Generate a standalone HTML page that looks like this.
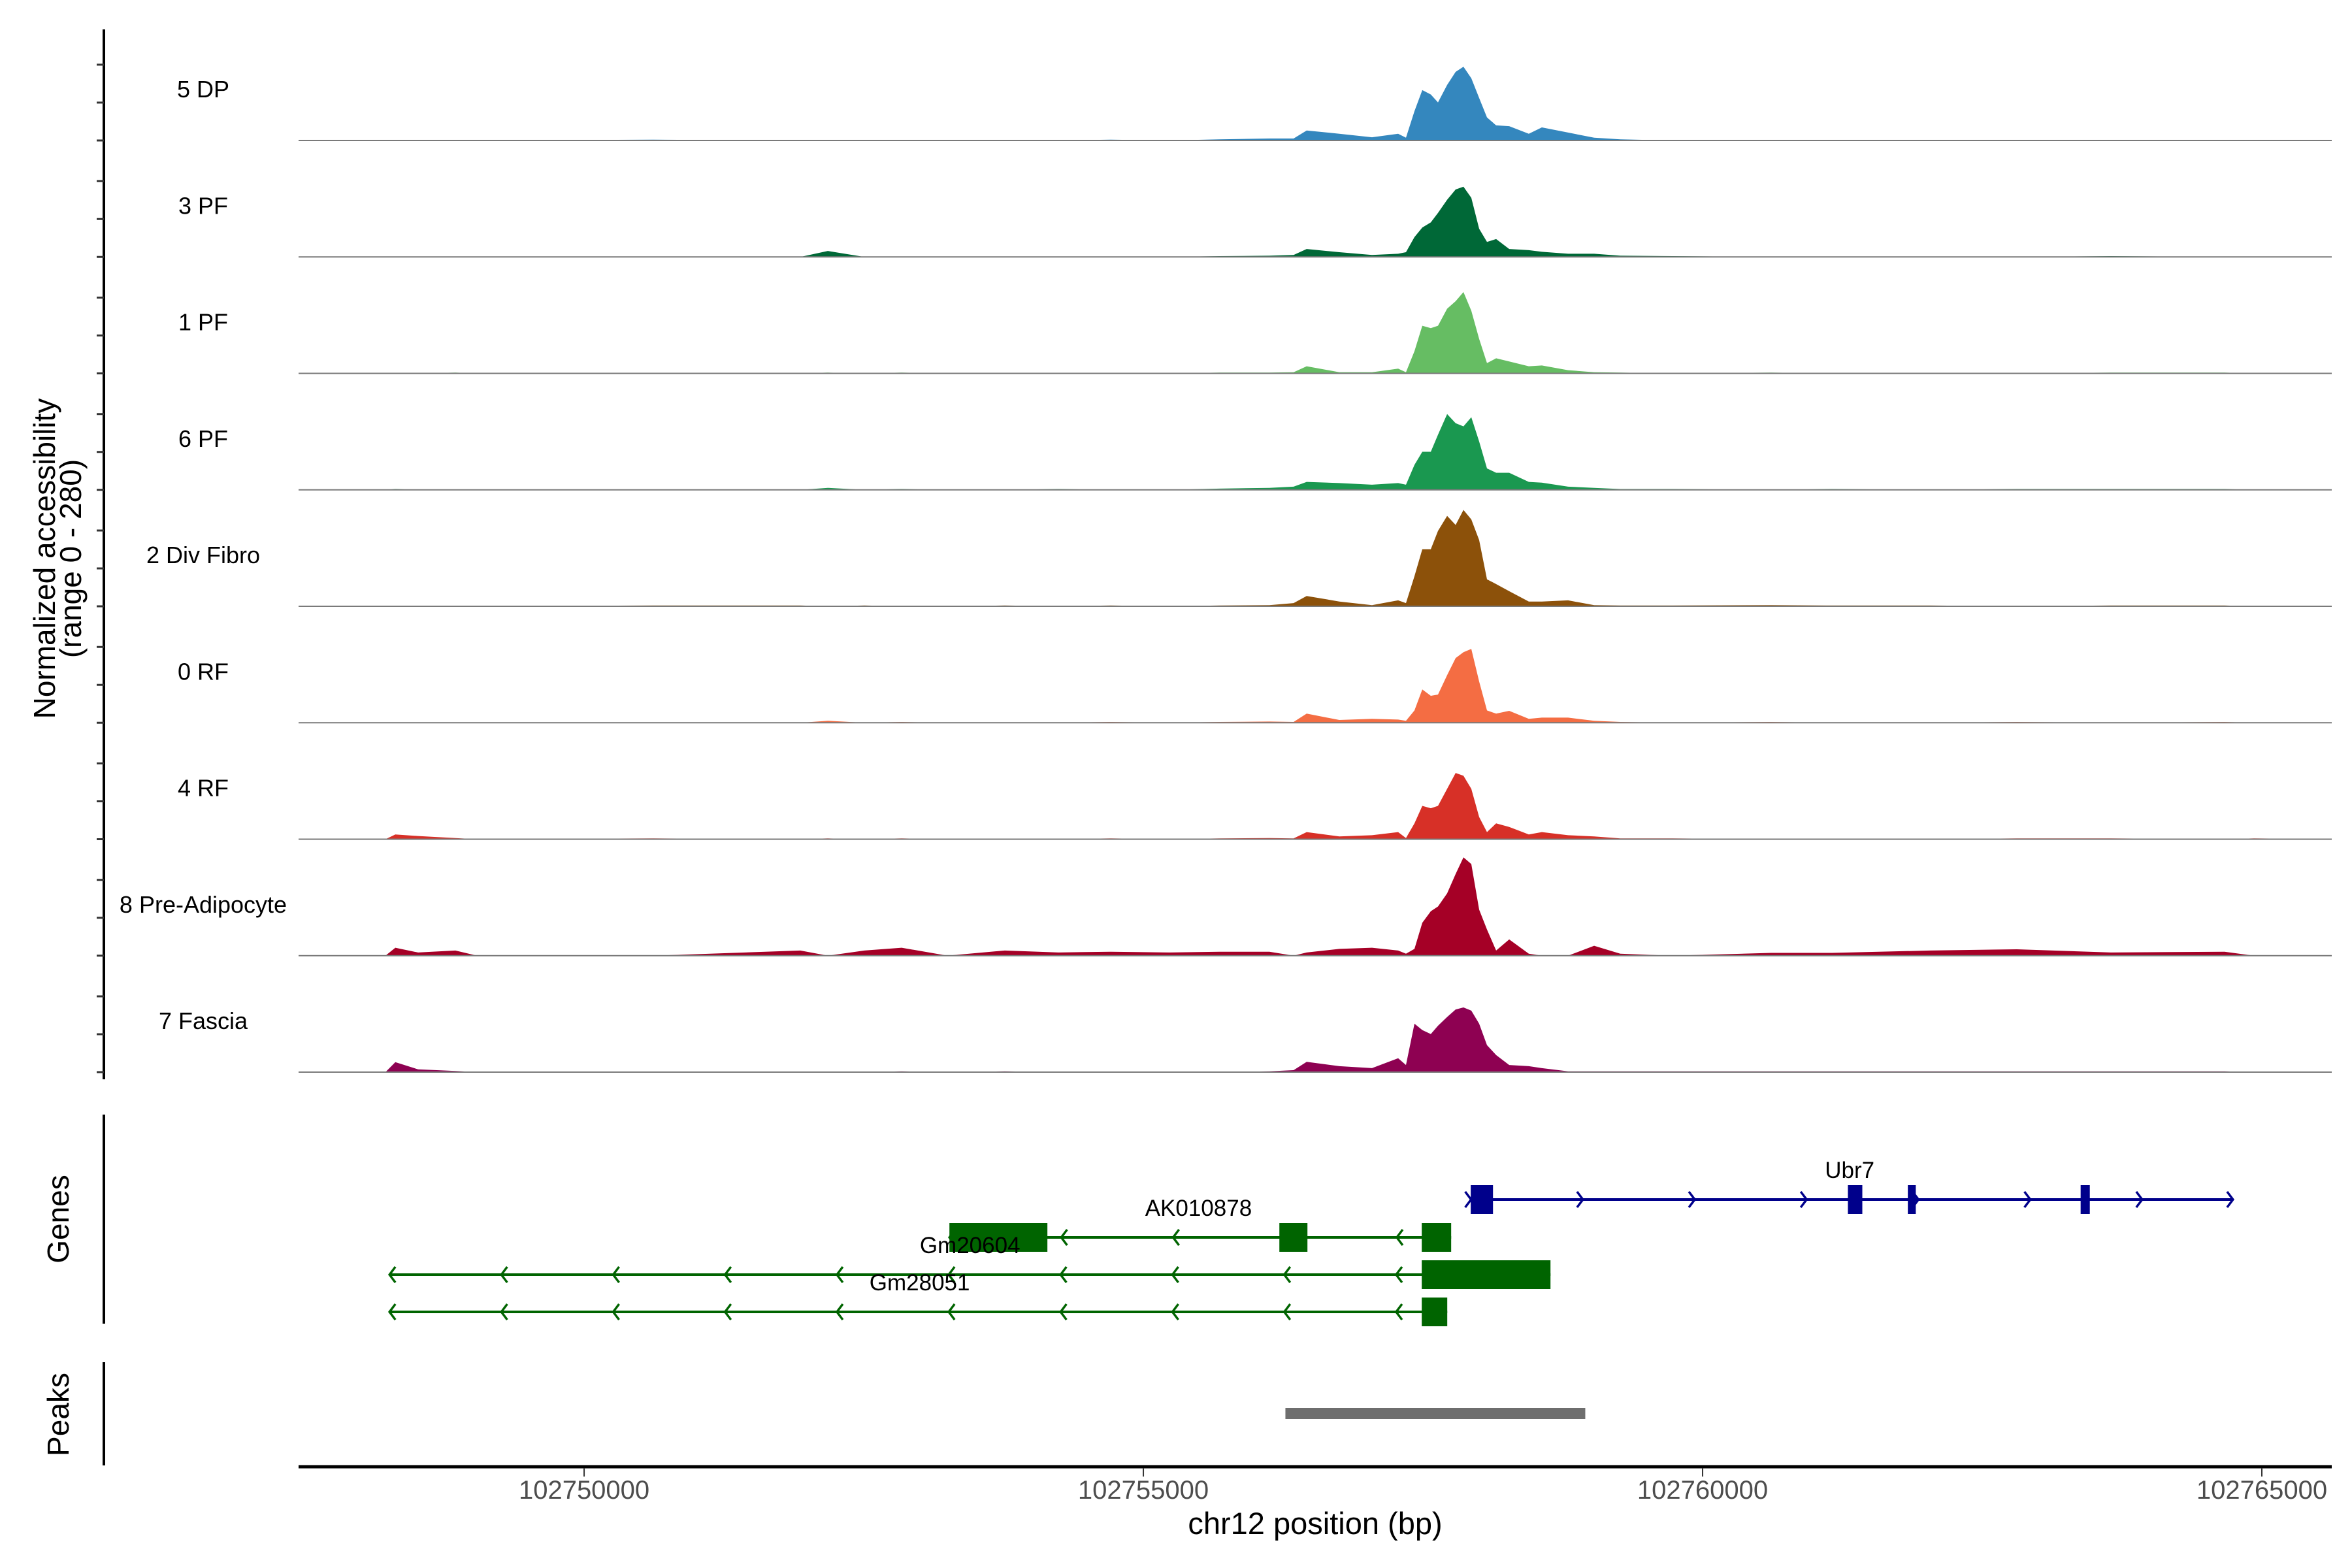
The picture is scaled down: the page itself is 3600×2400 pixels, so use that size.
<!DOCTYPE html>
<html><head><meta charset="utf-8"><style>
html,body{margin:0;padding:0;background:#fff;}
svg{display:block;font-family:"Liberation Sans",Arial,sans-serif;}
</style></head><body>
<svg id="chart" width="3600" height="2400" viewBox="0 0 3600 2400" xmlns="http://www.w3.org/2000/svg">
<g id="tracks"></g>
<g id="genes"></g>
<g id="peaks"></g>
<g id="axes"></g>
</svg>
<script>
const xTickValues = [102750000, 102755000, 102760000, 102765000];
const xTickLabels = ["102750000", "102755000", "102760000", "102765000"];
const trackNames = ["5 DP","3 PF","1 PF","6 PF","2 Div Fibro","0 RF","4 RF","8 Pre-Adipocyte","7 Fascia"];
const trackColors = ["#3487be","#006837","#66bd63","#1a9850","#8c510a","#f46d43","#d73027","#a50026","#8e0152"];
const positions = [102747447,102748224,102748312,102748516,102748849,102749042,102750619,102751933,102752179,102752506,102752839,102753248,102753761,102754241,102754708,102755234,102755683,102756127,
102756343,102756460,102756752,102757044,102757278,102757348,102757424,102757494,102757570,102757634,102757716,102757792,102757862,102757932,102758002,102758072,102758154,102758271,102758446,102758563,102758797,102759030,102759264,
102759731,102760613,102761156,102762032,102762809,102763650,102764667,102764930,102765625];
const dp5 = [0,0,0,0,0,0,2,0,0,0,0,0,0,0,2,0,3,5, 5,25,17,8,17,7,74,127,116,96,140,173,186,157,107,58,38,36,17,33,20,7,3, 0,0,0,0,0,0,0,0,0];
const pf3 = [0,0,0,0,0,0,0,0,15,0,0,0,0,0,0,0,2,3, 5,20,12,5,8,12,50,74,87,111,144,170,177,149,71,38,45,20,17,13,8,8,3, 2,0,0,0,0,2,0,0,0];
const pf1 = [0,0,0,0,2,0,0,0,2,0,2,0,0,0,0,0,2,2, 3,18,3,3,12,3,56,120,114,120,163,182,205,158,87,26,38,30,18,20,8,3,2, 0,2,0,0,0,2,2,0,0];
const pf6 = [0,0,2,0,0,0,0,0,5,0,2,0,0,2,0,0,3,5, 8,20,17,13,17,13,63,96,96,139,191,168,160,183,122,54,43,43,20,18,8,5,2, 2,0,2,0,2,2,2,0,0];
const divFibro2 = [0,0,0,0,0,0,2,2,0,2,0,0,2,0,2,0,2,3, 8,26,12,3,15,8,76,144,144,190,228,205,243,219,167,68,56,38,12,12,15,3,2, 2,3,2,2,0,2,2,0,0];
const rf0 = [0,0,0,0,0,0,0,0,5,0,2,0,0,0,2,0,2,3, 2,23,7,10,8,5,31,84,68,71,120,163,178,186,104,31,23,30,10,13,13,5,2, 0,2,0,0,2,0,2,0,0];
const rf4 = [0,0,12,8,3,0,2,0,2,0,2,0,0,0,2,0,2,3, 2,18,7,10,18,3,40,84,78,84,127,167,160,127,56,18,40,31,12,18,10,7,2, 2,0,0,0,2,2,0,2,0];
const preAdipo8 = [0,0,20,8,13,0,0,13,0,13,20,0,13,8,10,8,10,10, 0,8,17,20,13,5,17,83,112,124,157,206,248,231,116,66,13,41,5,0,0,25,5, 0,7,7,13,16,8,10,0,0];
const fascia7 = [0,0,25,7,3,0,0,0,0,0,2,0,2,0,0,0,0,2, 5,26,15,10,35,18,122,106,96,117,139,158,163,155,122,68,43,18,15,10,2,2,2, 2,2,2,2,2,2,2,0,0];
const trackValues = [dp5,pf3,pf1,pf6,divFibro2,rf0,rf4,preAdipo8,fascia7];
const geneNames = ["Ubr7","AK010878","Gm20604","Gm28051"];
const geneStarts = [102757930,102753266,102748260,102748260];
const geneEnds = [102764742,102757752,102758640,102757717];
const geneStrands = ["+","-","-","-"];
const geneExons = [
 [[102757927,102758126],[102761299,102761428],[102761835,102761906],[102763380,102763462]],
 [[102753266,102754142],[102756216,102756467],[102757489,102757752]],
 [[102757489,102758640]],
 [[102757489,102757717]]
];
const geneLabelPos = [102761315,102755493,102753450,102753000];
const peakStarts = [102756270];
const peakEnds = [102758951];

const NS="http://www.w3.org/2000/svg";
const X0=457, X1=3569, BP0=102747447, BP1=102765625;
function xScale(bp){return X0+(bp-BP0)/(BP1-BP0)*(X1-X0);}
const TRACK_H=170, YMAX=280;
function baseY(i){return 215+178.25*i;}
function yScale(v,i){return baseY(i)-v/YMAX*TRACK_H;}
function mk(tag,attrs,parent){const e=document.createElementNS(NS,tag);for(const k in attrs)e.setAttribute(k,attrs[k]);parent.appendChild(e);return e;}

const tracks=document.getElementById('tracks');
trackValues.forEach((vals,i)=>{
  let d='M'+xScale(positions[0]).toFixed(1)+','+baseY(i);
  positions.forEach((p,j)=>{d+=' L'+xScale(p).toFixed(1)+','+yScale(vals[j],i).toFixed(1);});
  d+=' L'+xScale(positions[positions.length-1]).toFixed(1)+','+baseY(i)+' Z';
  const a=mk('path',{d:d,fill:trackColors[i]},tracks);
  
  
  const b=mk('line',{x1:X0,x2:X1,y1:baseY(i),y2:baseY(i),stroke:'#7a7a7a','stroke-width':2},tracks);
  
  
  const t=mk('text',{x:311,y:baseY(i)-66,'font-size':36,'text-anchor':'middle',fill:'#000'},tracks);
  t.textContent=trackNames[i];
  
  
});

const axes=document.getElementById('axes');
function line(x1,y1,x2,y2,sw,col,name){const l=mk('line',{x1:x1,y1:y1,x2:x2,y2:y2,stroke:col,'stroke-width':sw},axes);return l;}
line(159,45,159,1652,4,'#000','y-axis-line');
for(let i=0;i<9;i++){[0,58,116].forEach(o=>line(148,baseY(i)-o,159,baseY(i)-o,3,'#333','y-axis-tick'));}
line(159,1706,159,2026,4,'#000','genes-axis-line');
line(159,2085,159,2243,4,'#000','peaks-axis-line');
line(X0,2245,X1,2245,5,'#000','x-axis-line');
xTickValues.forEach((v,k)=>{
  line(xScale(v),2247,xScale(v),2260,2,'#333','x-axis-tick');
  const t=mk('text',{x:xScale(v),y:2294,'font-size':40,'text-anchor':'middle',fill:'#4d4d4d'},axes);
  t.textContent=xTickLabels[k];
  
  
});
function txt(s,x,y,size,rot,name){const t=mk('text',{x:x,y:y,'font-size':size,'text-anchor':'middle',fill:'#000'},axes);if(rot)t.setAttribute('transform','rotate(-90 '+x+' '+y+')');t.textContent=s;return t;}
txt('chr12 position (bp)',2013,2348,47,false,'x-axis-title');
txt('Normalized accessibility',84,855,46,true,'y-axis-title');
txt('(range 0 - 280)',124,855,46,true,'y-axis-subtitle');
txt('Genes',105,1866,46,true,'genes-axis-title');
txt('Peaks',105,2165,46,true,'peaks-axis-title');

const genes=document.getElementById('genes');
const rowY=[1836,1894,1951,2008];
geneNames.forEach((g,i)=>{
  const col=geneStrands[i]==='+'?'#00008b':'#006400';
  const y=rowY[i];
  const x1=xScale(geneStarts[i]), x2=xScale(geneEnds[i]);
  const l=mk('line',{x1:x1,x2:x2,y1:y,y2:y,stroke:col,'stroke-width':4},genes);
  
  
  const arrows=[];
  for(let p=geneStarts[i];p<geneEnds[i]-300;p+=1000)arrows.push(p);
  if(geneStrands[i]==='+')arrows.push(geneEnds[i]);
  arrows.forEach(p=>{
    const ax=xScale(p), dir=geneStrands[i]==='+'?1:-1;
    const c=mk('path',{d:'M'+(ax-9*dir)+','+(y-12)+' L'+ax+','+y+' L'+(ax-9*dir)+','+(y+12),fill:'none',stroke:col,'stroke-width':3.5},genes);
    
    
  });
  geneExons[i].forEach(e=>{
    const r=mk('rect',{x:xScale(e[0]),y:y-22,width:xScale(e[1])-xScale(e[0]),height:44,fill:col},genes);
    
    
  });
  const t=mk('text',{x:xScale(geneLabelPos[i]),y:y-33,'font-size':35,'text-anchor':'middle',fill:'#000'},genes);
  t.textContent=g;
  
  
});

const peaks=document.getElementById('peaks');
peakStarts.forEach((s,k)=>{
  const r=mk('rect',{x:xScale(s),y:2155,width:xScale(peakEnds[k])-xScale(s),height:17,fill:'#6e6e6e'},peaks);
  
  
});
</script>
</body></html>
